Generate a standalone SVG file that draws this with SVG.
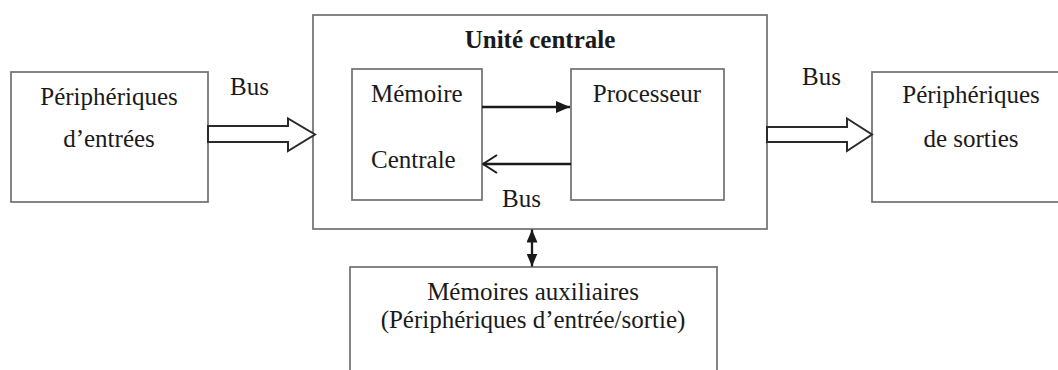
<svg xmlns="http://www.w3.org/2000/svg" width="1058" height="370" viewBox="0 0 1058 370">
  <style>
    .box { fill: #ffffff; stroke: #707070; stroke-width: 1.7; }
    .lbl { font-family: "Liberation Serif", "Times New Roman", serif; font-size: 25px; fill: #1a1a1a; }
    .mid { text-anchor: middle; }
    .title { font-weight: bold; }
    .wire { fill: none; stroke: #1a1a1a; stroke-width: 2.3; }
    .fat { fill: #ffffff; stroke: #2a2a2a; stroke-width: 2; stroke-linejoin: miter; }
  </style>
  <defs>
    <marker id="solidHead" viewBox="0 0 14 12" refX="14" refY="6" markerWidth="14" markerHeight="12" markerUnits="userSpaceOnUse" orient="auto-start-reverse">
      <path d="M0,0 L14,6 L0,12 Z" fill="#1a1a1a"/>
    </marker>
    <marker id="openHead" viewBox="0 0 16 20" refX="15" refY="10" markerWidth="16" markerHeight="20" markerUnits="userSpaceOnUse" orient="auto">
      <path d="M1,1 L15,10 L1,19" fill="none" stroke="#1a1a1a" stroke-width="2"/>
    </marker>
    <marker id="vHead" viewBox="0 0 13 11" refX="13" refY="5.5" markerWidth="13" markerHeight="11" markerUnits="userSpaceOnUse" orient="auto-start-reverse">
      <path d="M0,0 L13,5.5 L0,11 Z" fill="#1a1a1a"/>
    </marker>
  </defs>

  <rect width="1058" height="370" fill="#ffffff"/>

  <!-- input devices -->
  <g id="entrees">
    <rect class="box" x="11" y="72" width="197" height="130"/>
    <text class="lbl mid" x="109" y="105">Périphériques</text>
    <text class="lbl mid" x="109" y="147">d’entrées</text>
  </g>

  <!-- central unit -->
  <g id="unite-centrale">
    <rect class="box" x="313" y="15" width="454" height="214"/>
    <text class="lbl mid title" x="540" y="48">Unité centrale</text>
  </g>

  <g id="memoire-centrale">
    <rect class="box" x="352" y="69" width="130" height="131"/>
    <text class="lbl" x="371" y="102">Mémoire</text>
    <text class="lbl" x="371" y="168">Centrale</text>
  </g>

  <g id="processeur">
    <rect class="box" x="571" y="69" width="153" height="131"/>
    <text class="lbl mid" x="647" y="102">Processeur</text>
  </g>

  <!-- output devices (right edge runs past the frame) -->
  <g id="sorties">
    <rect class="box" x="872" y="72" width="200" height="130"/>
    <text class="lbl mid" x="971" y="103">Périphériques</text>
    <text class="lbl mid" x="971" y="147">de sorties</text>
  </g>

  <!-- auxiliary memories (bottom edge runs past the frame) -->
  <g id="memoires-auxiliaires">
    <rect class="box" x="350" y="267" width="367" height="120"/>
    <text class="lbl mid" x="533" y="300">Mémoires auxiliaires</text>
    <text class="lbl mid" x="533" y="328">(Périphériques d’entrée/sortie)</text>
  </g>

  <!-- connectors -->
  <g id="connecteurs">
    <!-- input bus -->
    <path class="fat" d="M208,126 L288,126 L288,118.5 L315,134.5 L288,151 L288,142 L208,142 Z"/>
    <text class="lbl" x="230" y="95">Bus</text>

    <!-- output bus -->
    <path class="fat" d="M767,127 L847,127 L847,118.5 L872,134.5 L847,151 L847,142 L767,142 Z"/>
    <text class="lbl" x="802" y="85">Bus</text>

    <!-- memory <-> processor -->
    <line class="wire" x1="482" y1="107" x2="570" y2="107" marker-end="url(#solidHead)"/>
    <line class="wire" x1="571" y1="164" x2="483" y2="164" marker-end="url(#openHead)"/>
    <text class="lbl" x="502" y="207">Bus</text>

    <!-- central unit <-> auxiliary memories -->
    <line class="wire" x1="532" y1="229.5" x2="532" y2="266.5" marker-start="url(#vHead)" marker-end="url(#vHead)"/>
  </g>
</svg>
